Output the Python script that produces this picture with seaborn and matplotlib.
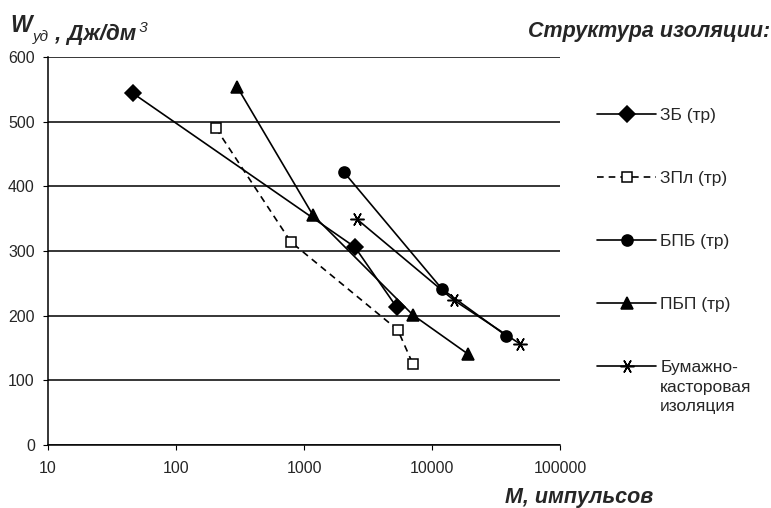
import matplotlib
matplotlib.use('Agg')
import matplotlib.pyplot as plt
from matplotlib.lines import Line2D
import seaborn as sns

# данные
zb_x = [46, 2500, 5300]
zb_y = [544, 306, 213]

zpl_x = [205, 790, 5400, 7100]
zpl_y = [490, 314, 178, 125]

bpb_x = [2050, 12000, 38000]
bpb_y = [422, 241, 169]

pbp_x = [300, 1170, 7100, 19000]
pbp_y = [554, 356, 201, 141]

bk_x = [2600, 14800, 49000]
bk_y = [349, 224, 156]

labels = ['ЗБ (тр)', 'ЗПл (тр)', 'БПБ (тр)', 'ПБП (тр)', 'Бумажно-']
label_tail = 'касторовая\nизоляция'
x_ticks = [10, 100, 1000, 10000, 100000]
y_ticks = [0, 100, 200, 300, 400, 500, 600]

sns.set_style('white')
plt.rcParams['font.family'] = ['Liberation Sans', 'DejaVu Sans']

fig = plt.figure(figsize=(7.71, 5.08), dpi=100)
ax = fig.add_axes([48 / 771, 63 / 508, 512 / 771, 388 / 508])

dashed = (0, (4, 3))
series = [
    (zb_x, zb_y, 'D', 'k', '-', 8),
    (zpl_x, zpl_y, 's', 'white', dashed, 7.5),
    (bpb_x, bpb_y, 'o', 'k', '-', 8),
    (pbp_x, pbp_y, '^', 'k', '-', 9),
    (bk_x, bk_y, (6, 2, 90), 'k', '-', 10),
]

handles = []
for xs, ys, m, fc, ls, ms in series:
    sns.lineplot(x=xs, y=ys, ax=ax, color='k', linestyle=ls, linewidth=1.2,
                 marker=m, markersize=ms, markerfacecolor=fc,
                 markeredgecolor='k', markeredgewidth=1.1, zorder=3)
    handles.append(Line2D([], [], color='k', linestyle=ls, linewidth=1.2,
                          marker=m, markersize=ms, markerfacecolor=fc,
                          markeredgecolor='k', markeredgewidth=1.1))

ax.set_xscale('log')
ax.set_xlim(10, 100000)
ax.set_ylim(0, 600)
ax.set_xticks(x_ticks)
ax.set_xticklabels([str(t) for t in x_ticks])
ax.xaxis.set_minor_locator(matplotlib.ticker.NullLocator())
ax.set_yticks(y_ticks)
ax.tick_params(axis='both', labelsize=11.5, direction='out', length=3.5,
               color='k', bottom=True, left=True)
ax.tick_params(axis='x', pad=8)
ax.tick_params(axis='y', pad=6)
ax.yaxis.grid(True, color='k', linewidth=1.1)
ax.set_axisbelow(True)
for s in ['top', 'right']:
    ax.spines[s].set_visible(False)
for s in ['left', 'bottom']:
    ax.spines[s].set_color('k')
    ax.spines[s].set_linewidth(1.1)

fig.legend(handles, labels, loc='upper left',
           bbox_to_anchor=(597 / 771, 1 - 108 / 508),
           frameon=False, fontsize=12.5, handlelength=3.4,
           handletextpad=0.25, labelspacing=2.75, borderaxespad=0,
           borderpad=0)
# продолжение подписи последней серии
fig.text(660 / 771, 1 - 380 / 508, label_tail, ha='left', va='top',
         fontsize=12.5, linespacing=1.3)

fig.text(770 / 771, 1 - 32 / 508, 'Структура изоляции:', fontsize=15.5,
         fontweight='bold', fontstyle='italic', ha='right', va='center')
fig.text(505 / 771, 1 - 503 / 508, 'M, импульсов', fontsize=15.5,
         fontweight='bold', fontstyle='italic', ha='left', va='baseline')

# подпись оси Y с индексами
t1 = fig.text(10 / 771, 1 - 32 / 508, 'W', fontsize=16.5, fontweight='bold',
              fontstyle='italic', va='baseline')
t2 = ax.annotate('уд', xy=(1, 0), xycoords=t1, xytext=(1, -3),
                 textcoords='offset points', fontsize=11, fontstyle='italic')
t3 = ax.annotate(' , Дж/дм', xy=(1, 0), xycoords=t2, xytext=(0, 3),
                 textcoords='offset points', fontsize=16, fontweight='bold',
                 fontstyle='italic')
ax.annotate(' 3', xy=(1, 0), xycoords=t3, xytext=(-1, 9),
            textcoords='offset points', fontsize=11, fontstyle='italic')

plt.savefig('out.png', dpi=100)
